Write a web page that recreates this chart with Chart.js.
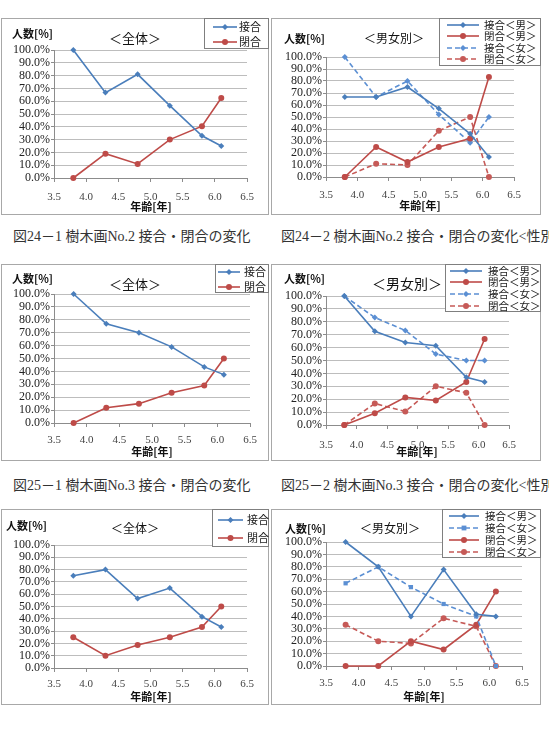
<!DOCTYPE html>
<html>
<head>
<meta charset="utf-8">
<script src="https://cdn.jsdelivr.net/npm/chart.js@4.4.0/dist/chart.umd.min.js"></script>
<style>
body { margin: 0; background: #fff; width: 549px; height: 740px; position: relative; overflow: hidden; }
.wrap { position: absolute; }
.cap { position: absolute; font-size: 14px; font-family: "Liberation Serif", "Noto Sans CJK JP"; color: #333; white-space: nowrap; line-height: 16px; }
</style>
</head>
<body>
<div class="wrap"><canvas id="c1"></canvas></div>
<div class="wrap"><canvas id="c2"></canvas></div>
<div class="wrap"><canvas id="c3"></canvas></div>
<div class="wrap"><canvas id="c4"></canvas></div>
<div class="wrap"><canvas id="c5"></canvas></div>
<div class="wrap"><canvas id="c6"></canvas></div>
<div class="cap" style="left:13px;top:229px">図24－1 樹木画No.2 接合・閉合の変化</div>
<div class="cap" style="left:281px;top:229px">図24－2 樹木画No.2 接合・閉合の変化&lt;性別&gt;</div>
<div class="cap" style="left:13px;top:478px">図25－1 樹木画No.3 接合・閉合の変化</div>
<div class="cap" style="left:281px;top:478px">図25－2 樹木画No.3 接合・閉合の変化&lt;性別&gt;</div>
<script>
// ages (x values) shared by every chart
const ages = [3.8, 4.3, 4.8, 5.3, 5.8, 6.1];

// 図24-1  No.2 全体
const n2AllSetsugo = [100, 66.7, 81, 56.5, 33, 25];
const n2AllHeigo   = [0, 19, 11, 30, 40.5, 62.5];
// 図24-2  No.2 男女別
const n2BoySetsugo  = [66.7, 66.7, 75, 57, 36, 16.7];
const n2BoyHeigo    = [0, 25, 12.5, 25, 32, 83.3];
const n2GirlSetsugo = [100, 66.7, 80, 52, 28.6, 50];
const n2GirlHeigo   = [0, 11.1, 10, 38.5, 50, 0];
// 図25-1  No.3 全体
const n3AllSetsugo = [100, 76.9, 70, 59, 43.5, 37.5];
const n3AllHeigo   = [0, 11.8, 15, 23.5, 29, 50];
// 図25-2  No.3 男女別
const n3BoySetsugo  = [100, 72.7, 64, 61.5, 37, 33.3];
const n3BoyHeigo    = [0, 9.1, 21.4, 19, 33.3, 66.7];
const n3GirlSetsugo = [100, 83.3, 73.3, 55, 50, 50];
const n3GirlHeigo   = [0, 16.7, 10.5, 30, 25, 0];
// bottom row
const n4AllSetsugo = [75, 80, 56.5, 65, 41.7, 33.3];
const n4AllHeigo   = [25, 10, 18.75, 25, 33.3, 50];
const n4BoySetsugo  = [100, 80, 40, 77.8, 41.7, 40];
const n4GirlSetsugo = [66.7, 80, 63.6, 50, 40, 0];
const n4BoyHeigo    = [0, 0, 20, 13.3, 33.3, 60];
const n4GirlHeigo   = [33.3, 20, 18.2, 38.5, 32, 0];

const BLUE = '#4A7EBB', BLUE2 = '#5B8FD3', RED = '#BE4B48', RED2 = '#C65A57';
const JP = '"Noto Sans CJK JP"';

const sAll = (a, b) => [
  {label: '接合', values: a, color: BLUE, marker: 'rectRot', r: 3},
  {label: '閉合', values: b, color: RED, marker: 'circle', r: 3}
];

function drawMarker(ctx, style, x, y, r, color) {
  ctx.fillStyle = color;
  ctx.beginPath();
  if (style === 'circle') ctx.arc(x, y, r, 0, Math.PI * 2);
  else if (style === 'rectRot') { ctx.moveTo(x, y - r); ctx.lineTo(x + r, y); ctx.lineTo(x, y + r); ctx.lineTo(x - r, y); ctx.closePath(); }
  else ctx.rect(x - r * 0.8, y - r * 0.8, r * 1.6, r * 1.6);
  ctx.fill();
}

const decor = {
  id: 'decor',
  beforeDraw(chart) {
    const ctx = chart.ctx;
    ctx.save();
    ctx.fillStyle = '#fff';
    ctx.fillRect(0, 0, chart.width, chart.height);
    ctx.restore();
  },
  afterDraw(chart, args, o) {
    const ctx = chart.ctx, bx = o.box.x, by = o.box.y;
    ctx.save();
    ctx.strokeStyle = '#a8a8a8';
    ctx.lineWidth = 1;
    ctx.strokeRect(0.5, 0.5, chart.width - 1, chart.height - 1);

    ctx.fillStyle = '#111';
    ctx.textBaseline = 'middle';
    ctx.textAlign = 'left';
    ctx.font = 'bold 11px ' + JP;
    ctx.fillText('人数[%]', o.yl[0] - bx, o.yl[1] - by);
    ctx.textAlign = 'center';
    ctx.fillText('年齢[年]', o.xt[0] - bx, o.xt[1] - by);
    ctx.font = o.title[3] + 'px ' + JP;
    ctx.fillText(o.title[0], o.title[1] - bx, o.title[2] - by);

    // legend box
    const L = o.legend;
    ctx.fillStyle = '#fff';
    ctx.fillRect(L.x - bx, L.y - by, L.w, L.h);
    ctx.strokeStyle = '#7f7f7f';
    ctx.strokeRect(L.x - bx + 0.5, L.y - by + 0.5, L.w - 1, L.h - 1);
    ctx.font = L.fs + 'px ' + JP;
    ctx.textAlign = 'left';
    chart.data.datasets.forEach((ds, i) => {
      const y = L.rows[i] - by;
      ctx.strokeStyle = ds.borderColor;
      ctx.lineWidth = 1.6;
      ctx.setLineDash(ds.borderDash);
      ctx.beginPath();
      ctx.moveTo(L.l0 - bx, y);
      ctx.lineTo(L.l1 - bx, y);
      ctx.stroke();
      ctx.setLineDash([]);
      drawMarker(ctx, ds.pointStyle, (L.l0 + L.l1) / 2 - bx, y, ds.pointRadius, ds.borderColor);
      ctx.fillStyle = '#222';
      ctx.fillText(ds.label, L.tx - bx, y);
    });
    ctx.restore();
  }
};

function makeChart(id, spec) {
  const cv = document.getElementById(id);
  const b = spec.box, p = spec.plot;
  cv.width = b.w; cv.height = b.h;
  cv.style.width = b.w + 'px'; cv.style.height = b.h + 'px';
  cv.parentNode.style.left = b.x + 'px';
  cv.parentNode.style.top = b.y + 'px';
  return new Chart(cv, {
    type: 'line',
    data: {
      datasets: spec.series.map(s => ({
        label: s.label,
        data: ages.map((a, i) => ({x: a, y: s.values[i]})),
        borderColor: s.color,
        backgroundColor: s.color,
        borderWidth: 1.6,
        borderDash: s.dash ? [5, 3] : [],
        pointStyle: s.marker,
        pointRadius: s.r,
        pointBorderWidth: 0,
        pointBackgroundColor: s.color,
        tension: 0,
        clip: false
      }))
    },
    options: {
      responsive: false,
      animation: false,
      devicePixelRatio: 1,
      layout: {padding: {left: 0, top: p.t - b.y, right: b.x + b.w - p.r, bottom: 0}},
      plugins: {
        legend: {display: false},
        tooltip: {enabled: false},
        decor: {box: b, yl: spec.yl, xt: spec.xt, title: spec.title, legend: spec.legend}
      },
      scales: {
        x: {
          type: 'linear', min: 3.5, max: 6.5,
          ticks: {stepSize: 0.5, color: '#444', padding: spec.xtick - p.b - 10.6, autoSkip: false,
                  font: {family: 'Liberation Serif', size: 11}, maxRotation: 0},
          grid: {drawOnChartArea: false, tickLength: 4, color: '#8c8c8c'},
          border: {color: '#8c8c8c'},
          afterFit: s => { s.height = b.y + b.h - p.b; }
        },
        y: {
          min: 0, max: 100,
          ticks: {stepSize: 10, color: '#222', padding: 1, autoSkip: false,
                  font: {family: 'Liberation Serif', size: 12},
                  callback: v => v.toFixed(1) + '%'},
          grid: {color: '#bdbdbd', tickLength: 3, tickColor: '#8c8c8c'},
          border: {color: '#8c8c8c'},
          afterFit: s => { s.width = p.l - b.x; }
        }
      }
    },
    plugins: [decor]
  });
}

makeChart('c1', {
  box: {x: 1, y: 18, w: 268, h: 197}, plot: {l: 54, r: 247, t: 50, b: 178},
  title: ['＜全体＞', 135, 38, 13], yl: [12, 34], xt: [151, 207], xtick: 197,
  legend: {x: 204, y: 18, w: 65, h: 31, rows: [27, 42], l0: 213, l1: 237, tx: 239, fs: 11},
  series: sAll(n2AllSetsugo, n2AllHeigo)
});
makeChart('c2', {
  box: {x: 271, y: 18, w: 270, h: 197}, plot: {l: 326, r: 514, t: 57, b: 177},
  title: ['＜男女別＞', 394, 38, 12], yl: [284, 39], xt: [420, 206], xtick: 195,
  legend: {x: 439, y: 18, w: 102, h: 48, rows: [25, 36, 48, 59], l0: 447, l1: 479, tx: 484, fs: 10.5},
  series: [
    {label: '接合＜男＞', values: n2BoySetsugo, color: BLUE, marker: 'rectRot', r: 3},
    {label: '閉合＜男＞', values: n2BoyHeigo, color: RED, marker: 'circle', r: 3},
    {label: '接合＜女＞', values: n2GirlSetsugo, color: BLUE2, marker: 'rectRot', r: 3, dash: true},
    {label: '閉合＜女＞', values: n2GirlHeigo, color: RED2, marker: 'circle', r: 3, dash: true}
  ]
});
makeChart('c3', {
  box: {x: 1, y: 264, w: 268, h: 197}, plot: {l: 54, r: 250, t: 294, b: 423},
  title: ['＜全体＞', 135, 284, 13], yl: [12, 279], xt: [152, 452], xtick: 440,
  legend: {x: 215, y: 264, w: 54, h: 29, rows: [272, 287], l0: 218, l1: 240, tx: 244, fs: 11},
  series: sAll(n3AllSetsugo, n3AllHeigo)
});
makeChart('c4', {
  box: {x: 271, y: 264, w: 270, h: 197}, plot: {l: 326, r: 509, t: 296, b: 425},
  title: ['＜男女別＞', 407, 284, 14], yl: [284, 279], xt: [417, 452], xtick: 445,
  legend: {x: 445, y: 264, w: 96, h: 48, rows: [271, 282, 294, 306], l0: 450, l1: 482, tx: 488, fs: 10.5},
  series: [
    {label: '接合＜男＞', values: n3BoySetsugo, color: BLUE, marker: 'rectRot', r: 3},
    {label: '閉合＜男＞', values: n3BoyHeigo, color: RED, marker: 'circle', r: 3},
    {label: '接合＜女＞', values: n3GirlSetsugo, color: BLUE2, marker: 'rectRot', r: 3, dash: true},
    {label: '閉合＜女＞', values: n3GirlHeigo, color: RED2, marker: 'circle', r: 3, dash: true}
  ]
});
makeChart('c5', {
  box: {x: 1, y: 509, w: 268, h: 196}, plot: {l: 54, r: 247, t: 545, b: 668},
  title: ['＜全体＞', 135, 528, 12], yl: [6, 526], xt: [151, 697], xtick: 684,
  legend: {x: 212, y: 509, w: 57, h: 38, rows: [520, 538], l0: 218, l1: 243, tx: 247, fs: 11},
  series: sAll(n4AllSetsugo, n4AllHeigo)
});
makeChart('c6', {
  box: {x: 271, y: 509, w: 270, h: 196}, plot: {l: 326, r: 522, t: 542, b: 666},
  title: ['＜男女別＞', 390, 528, 12], yl: [285, 529], xt: [424, 697], xtick: 683,
  legend: {x: 442, y: 509, w: 99, h: 49, rows: [516, 528, 540, 552], l0: 449, l1: 479, tx: 485, fs: 10.5},
  series: [
    {label: '接合＜男＞', values: n4BoySetsugo, color: BLUE, marker: 'rectRot', r: 3},
    {label: '接合＜女＞', values: n4GirlSetsugo, color: BLUE2, marker: 'rect', r: 3, dash: true},
    {label: '閉合＜男＞', values: n4BoyHeigo, color: RED, marker: 'circle', r: 3},
    {label: '閉合＜女＞', values: n4GirlHeigo, color: RED2, marker: 'circle', r: 3, dash: true}
  ]
});
</script>
</body>
</html>
